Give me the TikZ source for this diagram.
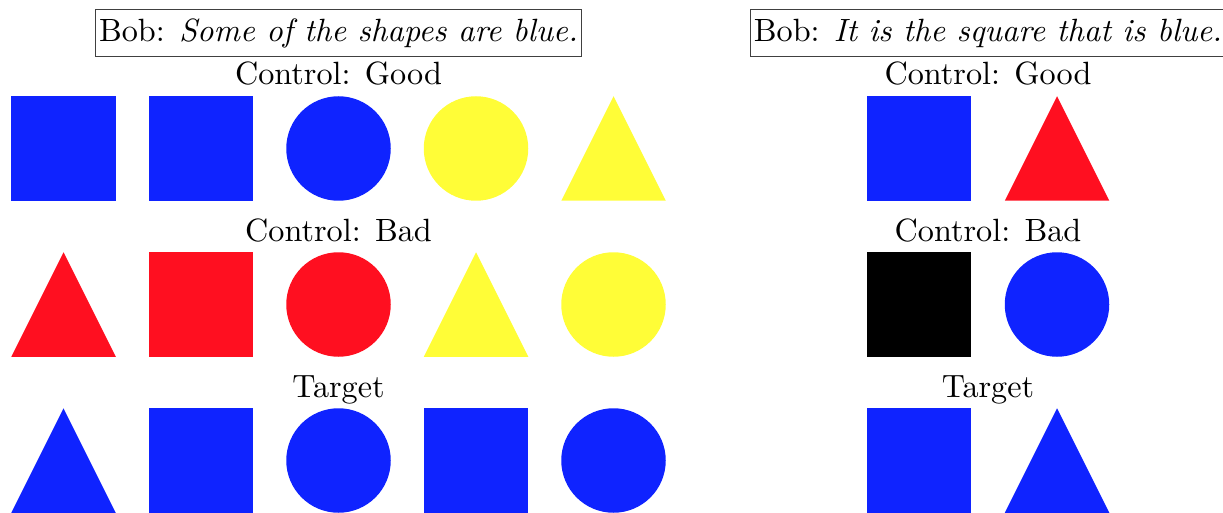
\documentclass[tikz,border=0pt]{standalone}
\usepackage{fontspec}
\setmainfont{lmroman10-regular.otf}[ItalicFont=lmroman10-italic.otf]
\definecolor{cblue}{RGB}{15,35,255}
\definecolor{cred}{RGB}{255,15,32}
\definecolor{cyel}{RGB}{255,253,55}
\definecolor{cblack}{RGB}{0,0,0}
\tikzset{
  lbl/.style={font=\fontsize{32.2}{39}\selectfont, inner sep=0pt, anchor=base},
  bobbox/.style={font=\fontsize{32.2}{39}\selectfont, draw=black!75, line width=0.9pt,
    inner xsep=3.5pt, inner ysep=0pt, text height=32.4pt, text depth=14.3pt, anchor=base},
  sqr/.pic={\fill[pic actions] (-52.25,-52.25) rectangle (52.25,52.25);},
  circ/.pic={\fill[pic actions] (0,0) circle[radius=52.25];},
  tri/.pic={\fill[pic actions] (-52.25,52.25) -- (0,-52.25) -- (52.25,52.25) -- cycle;}
}
\begin{document}
\begin{tikzpicture}[x=1pt,y=-1pt]
\useasboundingbox (0,0) rectangle (1223,513);
\clip (0,0) rectangle (1223,513);
% left panel
\node[bobbox] (bobL) at (338.5,41.7) {Bob: \textit{Some of the shapes are blue.}};
\node[lbl] (goodL) at (338.5,85) {Control: Good};
\node[lbl] (badL) at (338.5,241) {Control: Bad};
\node[lbl] (targL) at (338.5,397) {Target};
% row 1
\pic[fill=cblue] at (63.5,148.5) {sqr};
\pic[fill=cblue] at (201,148.5) {sqr};
\pic[fill=cblue] at (338.5,148.5) {circ};
\pic[fill=cyel] at (476,148.5) {circ};
\pic[fill=cyel] at (613.5,148.5) {tri};
% row 2
\pic[fill=cred] at (63.5,304.5) {tri};
\pic[fill=cred] at (201,304.5) {sqr};
\pic[fill=cred] at (338.5,304.5) {circ};
\pic[fill=cyel] at (476,304.5) {tri};
\pic[fill=cyel] at (613.5,304.5) {circ};
% row 3
\pic[fill=cblue] at (63.5,460.5) {tri};
\pic[fill=cblue] at (201,460.5) {sqr};
\pic[fill=cblue] at (338.5,460.5) {circ};
\pic[fill=cblue] at (476,460.5) {sqr};
\pic[fill=cblue] at (613.5,460.5) {circ};
% right panel
\node[bobbox] (bobR) at (988,41.7) {Bob: \textit{It is the square that is blue.}};
\node[lbl] (goodR) at (988,85) {Control: Good};
\node[lbl] (badR) at (988,241) {Control: Bad};
\node[lbl] (targR) at (988,397) {Target};
\pic[fill=cblue] at (919,148.5) {sqr};
\pic[fill=cred] at (1057,148.5) {tri};
\pic[fill=cblack] at (919,304.5) {sqr};
\pic[fill=cblue] at (1057,304.5) {circ};
\pic[fill=cblue] at (919,460.5) {sqr};
\pic[fill=cblue] at (1057,460.5) {tri};
\end{tikzpicture}
\end{document}
